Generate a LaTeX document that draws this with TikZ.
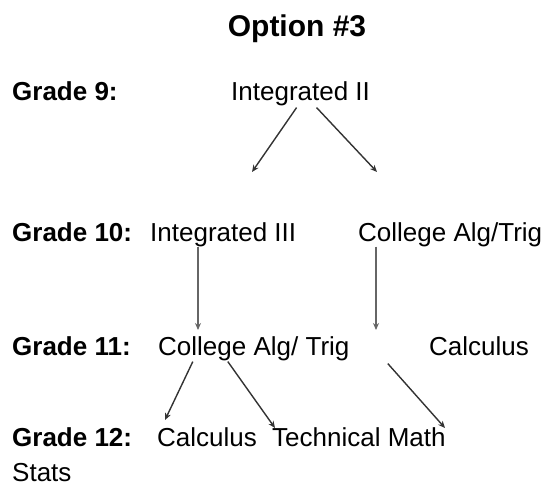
\documentclass[tikz,border=0pt]{standalone}
\usepackage{fontspec}
\setmainfont{Liberation Sans}
\usepackage{xcolor}
\usetikzlibrary{arrows.meta}
\definecolor{ink}{HTML}{333333}
\definecolor{softink}{HTML}{666666}

\begin{document}
\begin{tikzpicture}[x=1pt, y=-1pt, grade/.style={anchor=base west,inner sep=0pt,font=\fontsize{26}{30}\selectfont\bfseries}, course/.style={anchor=base west,inner sep=0pt,font=\fontsize{26}{30}\selectfont}, arrow/.style={-{Stealth[length=7pt,width=6pt]},line width=1.4pt,draw=ink}, down/.style={arrow,draw=softink}]
    \useasboundingbox (0,0) rectangle (550,495);
    \node[anchor=base,inner sep=0pt,font=\fontsize{30}{36}\selectfont\bfseries] (title) at (297,37) {Option \#3};
    % grade labels
    \node[grade] (g9)  at (12,101) {Grade 9:};
    \node[grade] (g10) at (12,241) {Grade 10:};
    \node[grade] (g11) at (12,355) {Grade 11:};
    \node[grade] (g12) at (12,446) {Grade 12:};
    \node[course] (stats) at (12,481) {Stats};
    % courses
    \node[course] (int2)   at (231,101) {Integrated II};
    \node[course] (int3)   at (150,241) {Integrated III};
    \node[course] (alg10)  at (358,241) {College Alg/Trig};
    \node[course] (alg11)  at (158,355) {College Alg/ Trig};
    \node[course] (calc11) at (429,355) {Calculus};
    \node[course] (calc12) at (157,446) {Calculus};
    \node[course] (tech)   at (272,446) {Technical Math};
    % arrow tips
    \coordinate (t1) at (252,172);
    \coordinate (t2) at (377,172);
    \coordinate (t3) at (198,330);
    \coordinate (t4) at (376,330);
    \coordinate (t5) at (165,420);
    \coordinate (t6) at (275,428);
    \coordinate (t7) at (445,428);
    \draw[arrow] ([xshift=-4pt,yshift=-1pt]int2.south) -- (t1);
    \draw[arrow] ([xshift=16pt,yshift=-1pt]int2.south) -- (t2);
    \draw[down] (int3.south -| t3) -- (t3);
    \draw[down] (alg10.south -| t4) -- (t4);
    \draw[arrow] ([xshift=-61pt,yshift=-1pt]alg11.south) -- (t5);
    \draw[arrow] ([xshift=-26pt,yshift=-1pt]alg11.south) -- (t6);
    \draw[arrow] ([xshift=134pt,yshift=-3pt]alg11.south) -- (t7);
  \end{tikzpicture}
\end{document}
